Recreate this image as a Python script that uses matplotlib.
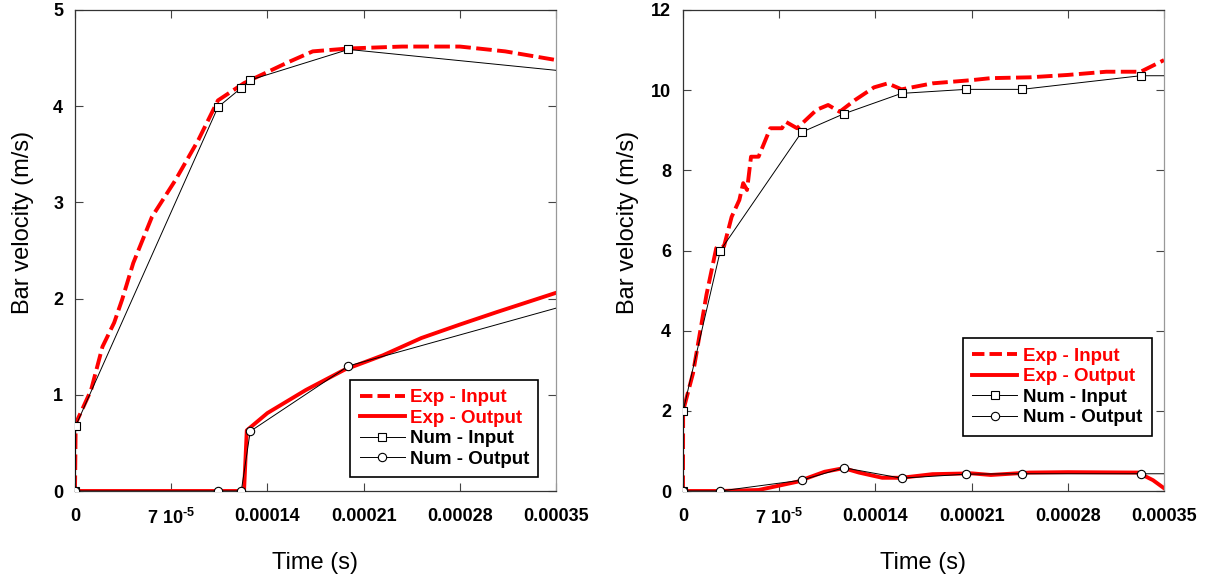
import matplotlib
matplotlib.use('Agg')
import matplotlib.pyplot as plt
from matplotlib.lines import Line2D

plt.rcParams['font.family'] = ['Liberation Sans', 'DejaVu Sans']
plt.rcParams['mathtext.fontset'] = 'custom'
plt.rcParams['mathtext.rm'] = 'Liberation Sans:bold'
plt.rcParams['mathtext.bf'] = 'Liberation Sans:bold'

# ---- left panel data (time in s, velocity in m/s) ----
t_exp_in_a = [0, 0.0000005, 0.0000117, 0.00002, 0.0000285, 0.0000343, 0.0000424, 0.000056, 0.000073,
              0.0000898, 0.000104, 0.000123, 0.000154, 0.000173, 0.000199, 0.000238, 0.00028,
              0.000313, 0.00035]
v_exp_in_a = [0, 0.70, 1.05, 1.5, 1.75, 1.99, 2.37, 2.85, 3.23, 3.65, 4.06, 4.24, 4.45, 4.57,
              4.60, 4.62, 4.62, 4.57, 4.48]
t_exp_out_a = [0, 0.000123, 0.000125, 0.00014, 0.000168, 0.000196, 0.000224, 0.000252, 0.00028,
               0.000307, 0.00035]
v_exp_out_a = [0, 0, 0.63, 0.81, 1.05, 1.26, 1.41, 1.59, 1.73, 1.86, 2.06]
t_num_in_a = [0, 0.0000005, 0.000104, 0.000121, 0.000127, 0.000199, 0.00038]
v_num_in_a = [0, 0.675, 3.99, 4.19, 4.27, 4.59, 4.33]
t_num_out_a = [0, 0.000104, 0.000121, 0.0001275, 0.000199, 0.00038]
v_num_out_a = [0, 0, 0, 0.62, 1.30, 2.02]

# ---- right panel data ----
t_exp_in_b = [0, 0.0000001, 0.0000073, 0.0000171, 0.0000242, 0.0000298, 0.0000354, 0.000041,
              0.0000438, 0.0000466, 0.0000495, 0.000055, 0.0000635, 0.000072, 0.0000748, 0.000083,
              0.0000972, 0.0001056, 0.000114, 0.000125, 0.000139, 0.000149, 0.000159, 0.0001815,
              0.00021, 0.000224, 0.000252, 0.00028, 0.000308, 0.000333, 0.00035]
v_exp_in_b = [0, 2.0, 2.94, 4.9, 6.06, 6.1, 6.84, 7.26, 7.68, 7.51, 8.34, 8.34, 9.05, 9.05, 9.21,
              9.05, 9.51, 9.63, 9.46, 9.75, 10.07, 10.17, 10.02, 10.17, 10.25, 10.3, 10.32, 10.38,
              10.46, 10.46, 10.75]
t_exp_out_b = [0, 0.000027, 0.000055, 0.000083, 0.000103, 0.000117, 0.000128, 0.000145, 0.000159,
               0.0001815, 0.00021, 0.000224, 0.000252, 0.00028, 0.000331, 0.000342, 0.00035]
v_exp_out_b = [0, 0, 0.025, 0.23, 0.48, 0.57, 0.46, 0.33, 0.33, 0.42, 0.44, 0.40, 0.46, 0.47,
               0.46, 0.27, 0.07]
t_num_in_b = [0, 0.0000001, 0.0000272, 0.0000863, 0.000117, 0.000159, 0.000206, 0.0002465,
              0.000333, 0.00038]
v_num_in_b = [0, 2.0, 6.0, 8.95, 9.41, 9.92, 10.02, 10.02, 10.36, 10.36]
t_num_out_b = [0, 0.0000272, 0.0000863, 0.000117, 0.000159, 0.000206, 0.0002465, 0.000333,
               0.00038]
v_num_out_b = [0, 0, 0.27, 0.58, 0.32, 0.42, 0.43, 0.43, 0.43]

x_ticks = [0, 0.00007, 0.00014, 0.00021, 0.00028, 0.00035]
x_tick_labels = ['0', r'7 10$^{\text{-5}}$', '0.00014', '0.00021', '0.00028', '0.00035']
legend_labels = ['Exp - Input', 'Exp - Output', 'Num - Input', 'Num - Output']

RED_LW = 2.8
DASH = (0, (4, 1.4))


def draw_panel(ax, exp_in, exp_out, num_in, num_out, ymax, ystep, legend_box, ylab_x):
    ax.plot(*exp_in, color='red', lw=RED_LW, ls=DASH, zorder=2)
    ax.plot(*exp_out, color='red', lw=RED_LW, zorder=2)
    ax.plot(*num_in, color='black', lw=0.7, marker='s', ms=6, mfc='white', mec='black',
            mew=0.8, zorder=3)
    ax.plot(*num_out, color='black', lw=0.7, marker='o', ms=6, mfc='white', mec='black',
            mew=0.8, zorder=3)
    ax.set_xlim(0, 0.00035)
    ax.set_ylim(0, ymax)
    ax.set_xticks(x_ticks)
    ax.set_xticklabels(x_tick_labels)
    ax.set_yticks(list(range(0, ymax + 1, ystep)))
    ax.tick_params(direction='in', length=6, width=0.8, top=True, right=True,
                   labelsize=13, color='#444444')
    ax.tick_params(axis='x', pad=12)
    ax.tick_params(axis='y', pad=8.5)
    for lab in ax.get_xticklabels() + ax.get_yticklabels():
        lab.set_fontweight('bold')
    for name, sp in ax.spines.items():
        sp.set_linewidth(0.9)
        sp.set_color('#999999' if name == 'right' else '#333333')
    ax.set_xlabel('Time (s)', fontsize=17)
    ax.xaxis.set_label_coords(0.5, -0.127)
    ax.set_ylabel('Bar velocity (m/s)', fontsize=17)
    ax.yaxis.set_label_coords(ylab_x, 0.559)

    handles = [
        Line2D([], [], color='red', lw=RED_LW, ls=(0, (3.2, 1.3))),
        Line2D([], [], color='red', lw=RED_LW),
        Line2D([], [], color='black', lw=0.7, marker='s', ms=6, mfc='white', mec='black', mew=0.8),
        Line2D([], [], color='black', lw=0.7, marker='o', ms=6, mfc='white', mec='black', mew=0.8),
    ]
    leg = ax.legend(handles, legend_labels, loc='lower left', bbox_to_anchor=legend_box,
                    mode='expand', fancybox=False, edgecolor='black', framealpha=1,
                    prop={'weight': 'bold', 'size': 13.5}, handlelength=2.4,
                    handletextpad=0.3, borderpad=0.5, labelspacing=0.18, borderaxespad=0)
    leg.get_frame().set_linewidth(1.2)
    for txt, col in zip(leg.get_texts(), ['red', 'red', 'black', 'black']):
        txt.set_color(col)


fig = plt.figure(figsize=(12.1, 5.81), dpi=100)
ax1 = fig.add_axes([75 / 1210, 90 / 581, 481 / 1210, 481 / 581])
ax2 = fig.add_axes([683 / 1210, 90 / 581, 481 / 1210, 481 / 581])

draw_panel(ax1, (t_exp_in_a, v_exp_in_a), (t_exp_out_a, v_exp_out_a),
           (t_num_in_a, v_num_in_a), (t_num_out_a, v_num_out_a), 5, 1,
           (0.572, 0.029, 0.391, 0.202), -0.085)
draw_panel(ax2, (t_exp_in_b, v_exp_in_b), (t_exp_out_b, v_exp_out_b),
           (t_num_in_b, v_num_in_b), (t_num_out_b, v_num_out_b), 12, 2,
           (0.582, 0.115, 0.394, 0.201), -0.092)

fig.savefig('out.png', dpi=100)
